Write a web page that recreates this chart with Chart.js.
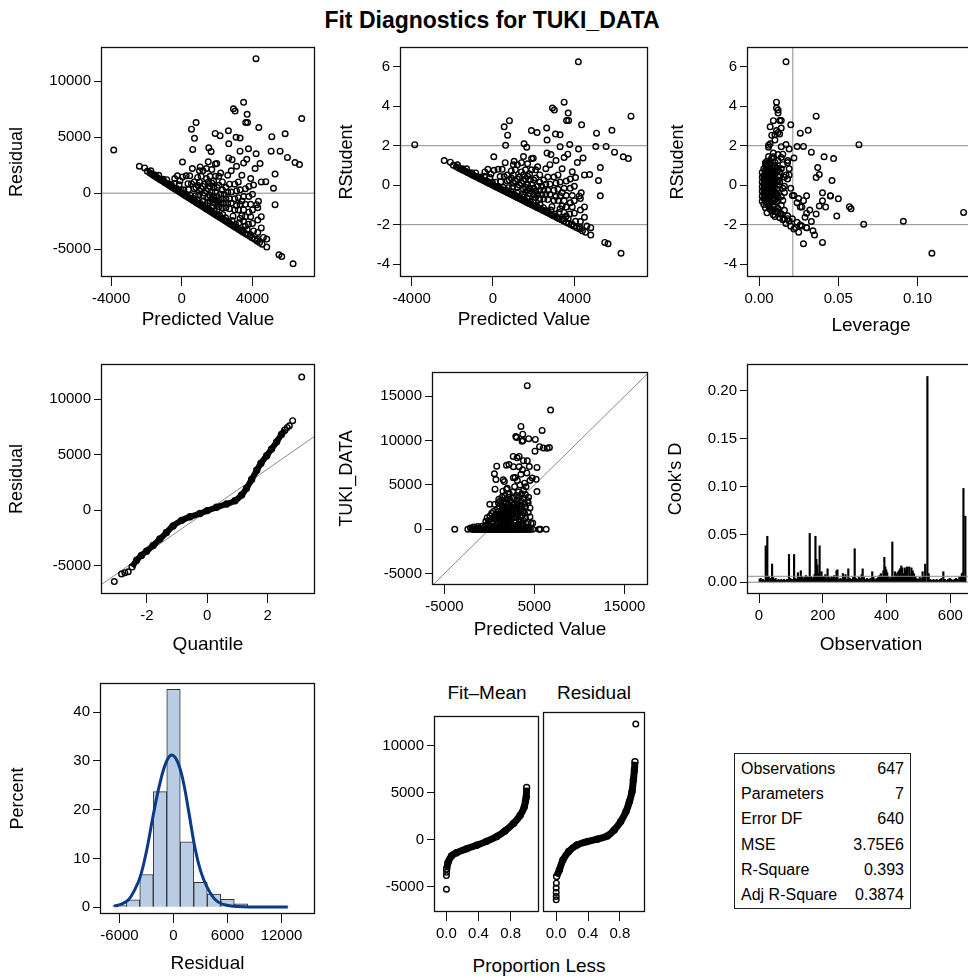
<!DOCTYPE html>
<html>
<head>
<meta charset="utf-8">
<title>Fit Diagnostics for TUKI_DATA</title>
<script src="https://cdn.jsdelivr.net/npm/chart.js@4.4.1/dist/chart.umd.min.js"></script>
<style>
  body { margin: 0; background: #fff; }
  #page { position: relative; width: 968px; height: 978px; overflow: hidden; background: #fff;
          font-family: 'Liberation Sans', Arial, sans-serif; color: #000; }
  #page canvas { position: absolute; }
  .lbl { position: absolute; white-space: nowrap; line-height: 1; transform: translateX(-50%); }
  #title { font-weight: bold; font-size: 23px; }
  .hdr { font-size: 19px; }
  #stats { position: absolute; left: 734px; top: 753px; width: 175px; height: 152px;
           border: 1px solid #222; font-size: 16px; padding-top: 2px; box-sizing: content-box; }
  #stats .row { display: flex; justify-content: space-between; height: 25.2px; line-height: 25.2px;
                padding: 0 6px 0 6px; }
</style>
</head>
<body>
<div id="page">
  <div id="title" class="lbl" style="left:492px; top:9px;">Fit Diagnostics for TUKI_DATA</div>
  <div class="lbl hdr" style="left:487px; top:683px;">Fit–Mean</div>
  <div class="lbl hdr" style="left:594px; top:683px;">Residual</div>
  <div class="lbl hdr" style="left:539px; top:956px;">Proportion Less</div>
  <div id="stats"></div>
</div>
<script>
// --- fit summary ---
const statLabels = ['Observations', 'Parameters', 'Error DF', 'MSE', 'R-Square', 'Adj R-Square'];
const statValues = ['647', '7', '640', '3.75E6', '0.393', '0.3874'];
const mse = 3.75e6;

// --- observations ---
// TUKI_DATA = 0 : [predicted, leverage]
const zeroFit = [
  [-3850,0.063],[-2400,0.012],[-1950,0.009],[-1800,0.006],[-1700,0.011],[-1620,0.003],[-1550,0.008],
  [-1480,0.004],[-1400,0.007],[-1330,0.010],[-1250,0.002],[-1180,0.009],[-1100,0.004],[-1030,0.006],
  [-960,0.003],[-900,0.005],[-840,0.012],[-770,0.002],[-700,0.006],[-640,0.009],[-580,0.003],
  [-510,0.007],[-450,0.004],[-380,0.011],[-320,0.002],[-250,0.005],[-190,0.008],[-120,0.003],
  [-60,0.007],[10,0.005],[70,0.009],[140,0.002],[200,0.006],[270,0.008],[330,0.003],[400,0.013],
  [460,0.004],[530,0.007],[600,0.002],[660,0.009],[730,0.006],[800,0.003],[870,0.010],[940,0.005],
  [1010,0.007],[1080,0.002],[1150,0.012],[1220,0.006],[1290,0.003],[1360,0.008],[1430,0.004],
  [1510,0.009],[1580,0.002],[1660,0.011],[1730,0.005],[1810,0.007],[1890,0.003],[1960,0.014],
  [2040,0.006],[2120,0.009],[2200,0.004],[2280,0.012],[2360,0.007],[2440,0.016],[2530,0.008],
  [2620,0.011],[2700,0.005],[2790,0.014],[2880,0.009],[2970,0.018],[3060,0.010],[3160,0.013],
  [3260,0.021],[3370,0.015],[3480,0.019],[3600,0.024],[3720,0.017],[3850,0.026],[3980,0.020],
  [4120,0.030],[4260,0.022],[4400,0.034],[4550,0.025],[4810,0.035],[5500,0.040],[5660,0.028],
  [6300,0.109]
];
// [predicted, TUKI_DATA, leverage]
const lowBand = [
  [-2100,150,0.010],[-1750,250,0.007],[-1500,120,0.005],[-1300,300,0.006],[-1050,180,0.004],
  [-850,350,0.008],[-600,200,0.005],[-420,450,0.006],[-300,120,0.004],[-150,600,0.007],
  [-30,250,0.005],[120,420,0.006],[260,150,0.004],[380,700,0.008],[500,300,0.005],[640,180,0.006],
  [760,520,0.004],[880,260,0.007],[960,800,0.005],[1060,140,0.006],[1180,420,0.004],[1310,220,0.008],
  [1450,560,0.005],[1560,130,0.006],[1690,380,0.004],[1840,240,0.007],[1990,520,0.005],
  [2150,160,0.006],[2320,410,0.009],[2480,280,0.007],[2650,150,0.011],[2850,420,0.009],
  [3050,250,0.013],[3250,600,0.012],[3450,180,0.016],[3700,450,0.018],[3900,200,0.066],
  [4060,690,0.091],[4283,180,0.023],[4620,670,0.027],[4810,710,0.030],[3490,1000,0.129],
  [3600,650,0.049],[3300,1050,0.058],[2900,850,0.057]
];
const cloud = [
  [-400,900,0.005],[-250,1300,0.006],[-100,1000,0.004],[50,1500,0.007],[40,2820,0.009],[250,1800,0.006],
  [350,1200,0.005],[450,2000,0.008],[550,1400,0.004],[600,2800,0.007],[700,1700,0.005],[700,1100,0.006],
  [800,1300,0.004],[900,1600,0.008],[900,2300,0.005],[1000,1200,0.006],[1000,2000,0.007],[1000,3000,0.004],
  [1040,3385,0.005],[1100,1500,0.009],[1100,2600,0.006],[1200,1000,0.005],[1200,1800,0.007],[1200,3200,0.004],
  [1300,1300,0.006],[1300,2100,0.008],[1400,1600,0.005],[1400,2700,0.007],[1400,3600,0.004],[1500,1100,0.006],
  [1500,1900,0.005],[1500,2500,0.009],[1500,4300,0.006],[1600,900,0.004],[1600,1400,0.007],[1600,2200,0.005],
  [1600,3100,0.008],[1700,1200,0.006],[1700,1800,0.004],[1700,2600,0.007],[1700,3800,0.005],[1800,1000,0.008],
  [1800,1500,0.006],[1800,2300,0.004],[1800,2900,0.009],[1900,1300,0.005],[1900,2000,0.007],[1900,3400,0.006],
  [1900,4500,0.008],[2000,1100,0.004],[2000,1700,0.006],[2000,2500,0.010],[2100,900,0.005],[2100,1500,0.007],
  [2100,2800,0.006],[2100,3600,0.012],[2200,1300,0.004],[2200,2100,0.008],[2200,4000,0.010],[2300,1000,0.006],
  [2300,1800,0.005],[2300,2600,0.009],[2300,3300,0.007],[2400,1500,0.011],[2400,2300,0.006],[2500,1200,0.050],
  [2500,2000,0.008],[2500,3000,0.012],[2600,1700,0.009],[2600,2700,0.007],[2600,4200,0.014],[2700,1300,0.010],
  [2700,2200,0.006],[2700,3500,0.013],[2800,1900,0.011],[2800,2900,0.008],[2800,4800,0.015],[3000,1500,0.012],
  [3000,2500,0.009],[3000,3800,0.016],[3100,2000,0.014],[3100,3300,0.010],[3100,5500,0.018],[3200,1700,0.015],
  [3200,2800,0.011],[3200,4200,0.017],[3300,2300,0.045],[3300,3600,0.013],[3400,1400,0.038],[3400,2700,0.016],
  [3400,5000,0.019],[3500,2000,0.040],[3500,3200,0.020],[3500,6200,0.014],[3600,1500,0.042],[3600,2600,0.022],
  [3600,4000,0.012],[3775,1000,0.036],[3800,2100,0.024],[3800,3500,0.015],[3800,4400,0.018],[3900,1800,0.026],
  [3900,2900,0.021],[3900,5200,0.013],[4000,1300,0.030],[4000,2500,0.028],[4000,3900,0.016],[4300,1900,0.032],
  [4300,3000,0.025],[4300,800,0.033],[4500,1400,0.029],[4500,2400,0.027],[4500,5500,0.019]
];
const upper = [
  [550,6260,0.007],[620,4520,0.006],[720,5610,0.008],[810,7110,0.009],[1530,5575,0.007],[1660,5380,0.006],
  [1890,7220,0.011],[1980,4620,0.008],[2170,7300,0.012],[2640,8210,0.014],[2660,7060,0.010],[2660,5800,0.009],
  [2850,5840,0.012],[2925,10455,0.011],[3019,10345,0.012],[3075,8055,0.013],[3300,8220,0.010],[3300,7050,0.014],
  [3500,11600,0.011],[3620,9920,0.013],[3680,6700,0.015],[3700,10730,0.012],[3720,10020,0.014],[3775,7735,0.017],
  [4060,4790,0.036],[4150,6350,0.018],[4200,16200,0.017],[4208,7724,0.019],[4245,3220,0.045],[4340,3610,0.040],
  [4360,10220,0.020],[4430,7070,0.022],[4755,5780,0.038],[5057,8807,0.024],[5095,10135,0.026],[5190,5630,0.046],
  [5280,6980,0.037],[5280,4255,0.030],[5566,9316,0.028],[5850,11150,0.031],[5980,9170,0.033],[6410,9135,0.041],
  [6660,9210,0.047],[6790,13440,0.036]
];

// --- Q-Q plot (normal quantile, residual) ---
const qqBand = [[-2.49,-5090],[-2.34,-4500],[-2.18,-4060],[-2.01,-3675],[-1.79,-3175],[-1.57,-2590],
  [-1.35,-2000],[-1.13,-1410],[-0.85,-910],[-0.57,-590],[-0.24,-290],[0,-30],[0.31,265],[0.64,560],
  [0.92,850],[1.14,1380],[1.30,1970],[1.47,2760],[1.64,3590],[1.78,4230],[1.97,4910],[2.13,5500],
  [2.30,6150],[2.46,6820],[2.57,7200]];
const qqTail = [[-3.08,-6410],[-2.84,-5730],[-2.73,-5615],[-2.62,-5530],[2.65,7450],[2.72,7600],
  [2.83,8055],[3.13,11970]];
const qqRef = [[-3.52,-6700],[3.57,6670]];

// --- residual histogram ---
const histCenters = [-6000, -4500, -3000, -1500, 0, 1500, 3000, 4500, 6000, 7500, 12000];
const histPercent = [0.3, 1.5, 6.7, 23.7, 44.7, 13.4, 5.1, 2.7, 1.6, 0.7, 0.15];
const normalCurve = [[-6600,0.2],[-5800,0.6],[-5000,1.5],[-4300,3.6],[-3700,6.2],[-3000,11.5],
  [-2240,19],[-1500,25.5],[-800,29.8],[-200,31.2],[400,30],[1000,26.5],[1700,19.5],[2400,12],
  [3000,7.5],[3700,4.2],[4500,1.8],[5200,0.8],[5900,0.4],[7000,0.15],[8500,0.05],[12700,0.05]];

// --- residual-fit spread (proportion less, value) ---
const fitMeanBand = [[0.003,-3120],[0.02,-2430],[0.063,-1735],[0.125,-1390],[0.25,-970],[0.377,-590],
  [0.5,-175],[0.628,347],[0.73,937],[0.837,1735],[0.92,2600],[0.97,3470],[0.985,4100],[0.995,4510],[1.0,5550]];
const fitMeanTail = [[0,-5270],[0,-3820],[0.002,-3470]];
const residBand = [[0.005,-3990],[0.04,-3300],[0.085,-2255],[0.157,-1390],[0.263,-695],[0.39,-350],
  [0.517,-105],[0.644,243],[0.73,868],[0.81,1735],[0.877,2776],[0.92,3817],[0.953,4860],[0.97,6070],
  [0.983,7110],[0.99,7980]];
const residTail = [[0,-6420],[0,-6070],[0,-5650],[0,-5200],[0.002,-4680],[1.0,11900]];

// --- Cook's D by observation ---
const cooksD = [
  [2,0.003],[5,0.004],[9,0.002],[12,0.003],[15,0.002],[21,0.038],[24,0.004],[26,0.048],[29,0.006],[31,0.005],
  [34,0.004],[38,0.003],[41,0.019],[44,0.005],[48,0.003],[52,0.004],[57,0.002],[61,0.003],[66,0.002],[70,0.003],
  [75,0.002],[79,0.003],[84,0.002],[88,0.003],[94,0.029],[98,0.004],[103,0.003],[110,0.029],[114,0.004],
  [118,0.003],[122,0.010],[127,0.005],[131,0.012],[135,0.006],[139,0.004],[143,0.005],[147,0.007],[151,0.006],
  [155,0.005],[159,0.051],[163,0.006],[167,0.004],[171,0.005],[174,0.008],[177,0.048],[180,0.024],[183,0.018],
  [186,0.009],[190,0.038],[193,0.007],[196,0.011],[200,0.006],[204,0.005],[208,0.008],[212,0.004],[215,0.014],
  [219,0.005],[223,0.004],[227,0.006],[231,0.005],[236,0.007],[240,0.004],[243,0.012],[246,0.013],[250,0.003],
  [255,0.004],[259,0.003],[263,0.009],[267,0.005],[271,0.008],[275,0.003],[280,0.014],[285,0.004],[290,0.003],
  [295,0.005],[300,0.035],[304,0.004],[309,0.003],[313,0.005],[318,0.004],[322,0.008],[325,0.014],[329,0.005],
  [334,0.003],[339,0.004],[344,0.003],[349,0.004],[355,0.011],[359,0.005],[364,0.003],[369,0.004],[374,0.005],
  [378,0.007],[382,0.009],[386,0.006],[390,0.012],[393,0.026],[396,0.016],[399,0.013],[402,0.010],[406,0.006],
  [410,0.004],[414,0.005],[418,0.042],[422,0.005],[426,0.011],[430,0.008],[434,0.010],[438,0.012],[442,0.014],
  [446,0.017],[449,0.015],[453,0.009],[457,0.015],[461,0.012],[464,0.016],[468,0.006],[471,0.016],[475,0.008],
  [478,0.015],[482,0.012],[486,0.009],[490,0.006],[494,0.004],[499,0.003],[504,0.005],[509,0.004],[513,0.011],
  [517,0.006],[521,0.019],[528,0.215],[532,0.009],[537,0.003],[542,0.002],[547,0.003],[552,0.002],[557,0.003],
  [562,0.002],[567,0.003],[572,0.004],[578,0.011],[583,0.003],[588,0.002],[593,0.003],[598,0.004],[603,0.003],
  [608,0.002],[613,0.003],[618,0.004],[623,0.003],[628,0.005],[632,0.006],[636,0.009],[639,0.010],[641,0.098],
  [644,0.006],[647,0.069]
];
const cooksCutoff = 0.0062;

// --- tick values ---
const fitTicks = [-4000, 0, 4000];
const residTicks = [-5000, 0, 5000, 10000];
const rstudTicks = [-4, -2, 0, 2, 4, 6];
const levTicks = [0, 0.05, 0.10];
const levCut = 0.0213;
const quantTicks = [-2, 0, 2];
const obsFitTicks = [-5000, 5000, 15000];
const obsTicks = [-5000, 0, 5000, 10000, 15000];
const obsIdxTicks = [0, 200, 400, 600];
const cookTicks = [0, 0.05, 0.10, 0.15, 0.20];
const histXTicks = [-6000, 0, 6000, 12000];
const pctTicks = [0, 10, 20, 30, 40];
const propTicks = [0, 0.4, 0.8];

// derived columns (residual = observed - predicted, studentized by root MSE and leverage)
const rows = zeroFit.map(([p, h]) => [p, 0, h]).concat(lowBand, cloud, upper);
const predicted = rows.map(r => r[0]);
const observed = rows.map(r => r[1]);
const leverage = rows.map(r => r[2]);
const residual = rows.map(r => r[1] - r[0]);
const rmse = Math.sqrt(mse);
const rstudent = residual.map((e, i) => e / (rmse * Math.sqrt(1 - leverage[i])));

const xy = (xs, ys) => xs.map((x, i) => ({ x, y: ys[i] }));
const pairs = arr => arr.map(([x, y]) => ({ x, y }));

Chart.defaults.font.family = "'Liberation Sans', Arial, sans-serif";
Chart.defaults.color = '#000';

const framePlugin = {
  id: 'frame',
  afterDraw(chart) {
    const { ctx, chartArea: a } = chart;
    ctx.save();
    ctx.strokeStyle = '#111';
    ctx.lineWidth = 1.3;
    ctx.strokeRect(a.left + 0.5, a.top + 0.5, a.right - a.left - 1, a.bottom - a.top - 1);
    ctx.restore();
  }
};

function pts(data) {
  return { data, showLine: false, pointRadius: 2.8, pointBorderWidth: 1.4, borderColor: '#000',
           pointBorderColor: '#000', pointBackgroundColor: 'rgba(0,0,0,0)' };
}
function band(data, width) {
  return { data, showLine: true, borderColor: '#000', borderWidth: width, tension: 0.3,
           pointRadius: 3, pointBorderWidth: 1.4, pointBorderColor: '#000', pointBackgroundColor: 'rgba(0,0,0,0)' };
}
function refLine(data, type) {
  return { type, data, showLine: true, borderColor: '#8a8a8a', borderWidth: 1, pointRadius: 0, fill: false };
}

function makePanel(f, o) {
  const padL = 110, padT = 8, padR = 8, padB = 90;
  const left = f.l - padL, top = f.t - padT;
  const w = Math.round(f.r - f.l + padL + padR), h = Math.round(f.b - f.t + padT + padB);
  const cv = document.createElement('canvas');
  cv.width = w; cv.height = h;
  cv.style.left = left + 'px';
  cv.style.top = top + 'px';
  document.getElementById('page').appendChild(cv);
  const xLH = 19 * 1.2, yLH = 18 * 1.2;
  const showY = o.showY !== false;

  return new Chart(cv, {
    type: o.type || 'scatter',
    data: { datasets: o.datasets },
    options: {
      responsive: false,
      animation: false,
      events: [],
      layout: { padding: { left: 0, top: padT, right: padR, bottom: 0 } },
      plugins: { legend: { display: false }, tooltip: { enabled: false } },
      scales: {
        x: {
          type: 'linear', min: o.xMin, max: o.xMax, offset: false,
          afterBuildTicks: s => { s.ticks = o.xTicks.map(v => ({ value: v })); },
          afterFit: s => { s.height = padB; },
          ticks: { font: { size: 15 }, padding: 4, maxRotation: 0, autoSkip: false,
                   callback: v => o.xFmt ? o.xFmt(v) : String(v) },
          grid: { drawOnChartArea: false, drawTicks: true, tickLength: 9, color: '#111', offset: false },
          border: { display: false },
          title: o.xTitle ? { display: true, text: o.xTitle, font: { size: 19 },
                              padding: { top: 0, bottom: f.b + padB - o.xTitleY - xLH / 2 } }
                          : { display: false }
        },
        y: {
          type: 'linear', min: o.yMin, max: o.yMax,
          afterBuildTicks: s => { s.ticks = o.yTicks.map(v => ({ value: v })); },
          afterFit: s => { s.width = padL; },
          ticks: { display: showY, font: { size: 15 }, padding: 3, autoSkip: false,
                   callback: v => o.yFmt ? o.yFmt(v) : String(v) },
          grid: { drawOnChartArea: false, drawTicks: showY, tickLength: 7, color: '#111' },
          border: { display: false },
          title: o.yTitle ? { display: true, text: o.yTitle, font: { size: 18 },
                              padding: { top: o.yTitleX - left - yLH / 2, bottom: 0 } }
                          : { display: false }
        }
      }
    },
    plugins: [framePlugin]
  });
}

// row 1
makePanel({ l: 101, t: 43, r: 315, b: 277 }, {
  xMin: -4570, xMax: 7540, yMin: -7480, yMax: 13040, xTicks: fitTicks, yTicks: residTicks,
  xTitle: 'Predicted Value', xTitleY: 320, yTitle: 'Residual', yTitleX: 17.5,
  datasets: [pts(xy(predicted, residual)), refLine([{ x: -4570, y: 0 }, { x: 7540, y: 0 }])]
});
makePanel({ l: 400, t: 43, r: 648, b: 277 }, {
  xMin: -4575, xMax: 7626, yMin: -4.65, yMax: 7.0, xTicks: fitTicks, yTicks: rstudTicks,
  xTitle: 'Predicted Value', xTitleY: 320, yTitle: 'RStudent', yTitleX: 347,
  datasets: [pts(xy(predicted, rstudent)),
             refLine([{ x: -4575, y: 2 }, { x: 7626, y: 2 }]),
             refLine([{ x: -4575, y: -2 }, { x: 7626, y: -2 }])]
});
makePanel({ l: 747, t: 43, r: 995, b: 277 }, {
  xMin: -0.0076, xMax: 0.1488, yMin: -4.65, yMax: 7.0, xTicks: levTicks, yTicks: rstudTicks,
  xFmt: v => v.toFixed(2),
  xTitle: 'Leverage', xTitleY: 326, yTitle: 'RStudent', yTitleX: 678,
  datasets: [pts(xy(leverage, rstudent)),
             refLine([{ x: -0.0076, y: 2 }, { x: 0.1488, y: 2 }]),
             refLine([{ x: -0.0076, y: -2 }, { x: 0.1488, y: -2 }]),
             refLine([{ x: levCut, y: -4.65 }, { x: levCut, y: 7.0 }])]
});

// row 2
makePanel({ l: 101, t: 360, r: 315, b: 594 }, {
  xMin: -3.52, xMax: 3.57, yMin: -7530, yMax: 13150, xTicks: quantTicks, yTicks: residTicks,
  xTitle: 'Quantile', xTitleY: 645, yTitle: 'Residual', yTitleX: 17.5,
  datasets: [band(pairs(qqBand), 6), pts(pairs(qqTail)), refLine(pairs(qqRef))]
});
makePanel({ l: 432, t: 368, r: 648, b: 585 }, {
  xMin: -6375, xMax: 17605, yMin: -6290, yMax: 17740, xTicks: obsFitTicks, yTicks: obsTicks,
  xTitle: 'Predicted Value', xTitleY: 630, yTitle: 'TUKI_DATA', yTitleX: 346.7,
  datasets: [pts(xy(predicted, observed)), refLine([{ x: -7000, y: -7000 }, { x: 18000, y: 18000 }])]
});
makePanel({ l: 747, t: 360, r: 995, b: 594 }, {
  type: 'bar',
  xMin: -37.7, xMax: 740, yMin: -0.0123, yMax: 0.228, xTicks: obsIdxTicks, yTicks: cookTicks,
  yFmt: v => v.toFixed(2),
  xTitle: 'Observation', xTitleY: 645, yTitle: "Cook's D", yTitleX: 676.5,
  datasets: [refLine([{ x: -37.7, y: cooksCutoff }, { x: 740, y: cooksCutoff }], 'line'),
             refLine([{ x: -37.7, y: 0 }, { x: 740, y: 0 }], 'line'),
             { data: pairs(cooksD), backgroundColor: '#000', borderWidth: 0, barThickness: 1.5, grouped: false }]
});

// row 3
makePanel({ l: 100, t: 679, r: 315, b: 914 }, {
  type: 'bar',
  xMin: -8167, xMax: 15720, yMin: -1.41, yMax: 46, xTicks: histXTicks, yTicks: pctTicks,
  xTitle: 'Residual', xTitleY: 964, yTitle: 'Percent', yTitleX: 18,
  datasets: [
    { type: 'line', data: pairs(normalCurve), borderColor: '#0b3a86', borderWidth: 3, pointRadius: 0,
      tension: 0.4, fill: false },
    { data: xy(histCenters, histPercent), backgroundColor: '#b8cce4', borderColor: '#333', borderWidth: 1,
      barPercentage: 1, categoryPercentage: 1, grouped: false }
  ]
});
makePanel({ l: 434, t: 712, r: 539, b: 912 }, {
  xMin: -0.155, xMax: 1.154, yMin: -7690, yMax: 13160, xTicks: propTicks, yTicks: residTicks,
  xFmt: v => v.toFixed(1),
  datasets: [band(pairs(fitMeanBand), 7), pts(pairs(fitMeanTail))]
});
makePanel({ l: 543, t: 712, r: 645, b: 912 }, {
  xMin: -0.166, xMax: 1.116, yMin: -7690, yMax: 13160, xTicks: propTicks, yTicks: residTicks,
  xFmt: v => v.toFixed(1), showY: false,
  datasets: [band(pairs(residBand), 7), pts(pairs(residTail))]
});

// fit statistics box
const box = document.getElementById('stats');
statLabels.forEach((label, i) => {
  const row = document.createElement('div');
  row.className = 'row';
  row.innerHTML = '<span>' + label + '</span><span>' + statValues[i] + '</span>';
  box.appendChild(row);
});
</script>
</body>
</html>
